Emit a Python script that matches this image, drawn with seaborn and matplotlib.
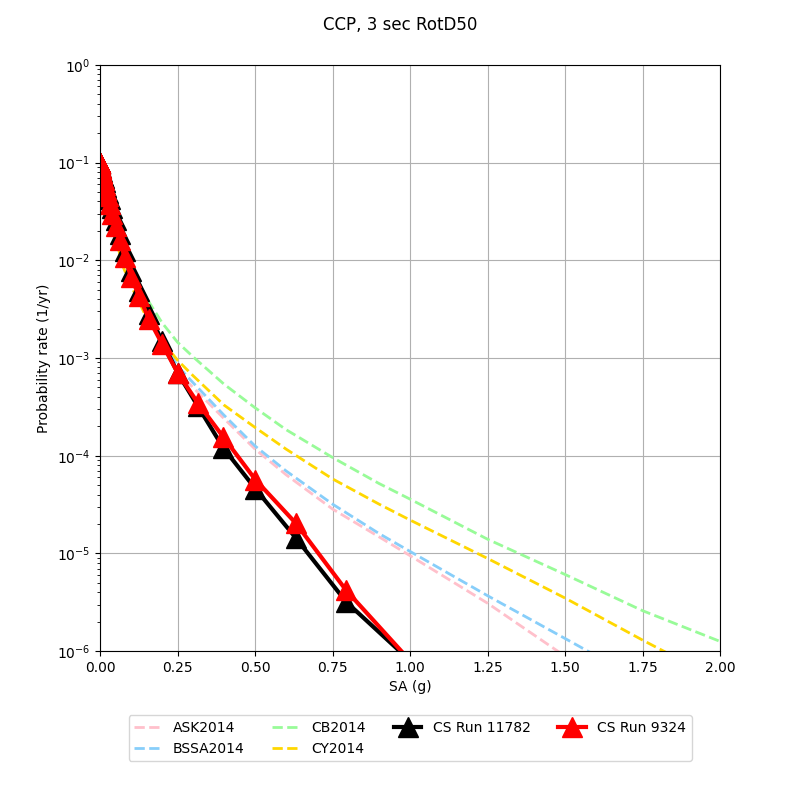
import numpy as np
import pandas as pd
import matplotlib
matplotlib.use("Agg")
import matplotlib.pyplot as plt
import seaborn as sns

# ---- data ----
cs_iml = [0.0001, 0.00013, 0.00016, 0.0002, 0.00025, 0.00032, 0.0004, 0.0005,
          0.00063, 0.00079, 0.001, 0.00126, 0.00158, 0.002, 0.00251, 0.00316,
          0.00398, 0.00501, 0.00631, 0.00794, 0.01, 0.0126, 0.0158, 0.02,
          0.0251, 0.0316, 0.0398, 0.0501, 0.0631, 0.0794, 0.1, 0.126, 0.158,
          0.2, 0.251, 0.316, 0.398, 0.501, 0.631, 0.794, 1.0]

cs_9324 = [0.100, 0.100, 0.0995, 0.099, 0.0985, 0.098, 0.0975, 0.097,
           0.096, 0.095, 0.094, 0.092, 0.090, 0.088, 0.086, 0.084,
           0.082, 0.079, 0.076, 0.073, 0.070, 0.066, 0.059, 0.052,
           0.045, 0.038, 0.030, 0.0225, 0.0160, 0.0108, 0.0068, 0.0043, 0.0025,
           0.0014, 7.0e-4, 3.45e-4, 1.55e-4, 5.7e-5, 2.05e-5, 4.2e-6, 8.0e-7]

cs_11782 = [0.100, 0.100, 0.0995, 0.099, 0.0985, 0.098, 0.0975, 0.097,
            0.096, 0.095, 0.094, 0.092, 0.090, 0.088, 0.086, 0.084,
            0.082, 0.080, 0.077, 0.075, 0.072, 0.069, 0.063, 0.056,
            0.049, 0.042, 0.034, 0.026, 0.0185, 0.0124, 0.0078, 0.0049, 0.0028,
            0.0015, 7.0e-4, 3.2e-4, 1.2e-4, 4.6e-5, 1.45e-5, 3.2e-6, 8.0e-7]

gmpe_x = [0.0001, 0.001, 0.01, 0.03, 0.05, 0.075, 0.1, 0.15, 0.2, 0.25, 0.3,
          0.4, 0.5, 0.6, 0.75, 0.9, 1.0, 1.25, 1.5, 1.75, 2.0]

ask2014 = [0.1, 0.097, 0.063, 0.034, 0.020, 0.0105, 0.0065, 0.0029, 0.0014,
           7.2e-4, 5.0e-4, 2.4e-4, 1.17e-4, 6.4e-5, 2.85e-5, 1.48e-5, 9.5e-6,
           3.1e-6, 8.9e-7, 2.6e-7, 7e-8]
bssa2014 = [0.1, 0.097, 0.063, 0.034, 0.020, 0.0105, 0.0066, 0.0030, 0.0015,
            8.3e-4, 5.6e-4, 2.6e-4, 1.26e-4, 7.0e-5, 3.2e-5, 1.6e-5, 1.05e-5,
            3.7e-6, 1.35e-6, 4.9e-7, 1.8e-7]
cb2014 = [0.1, 0.097, 0.065, 0.036, 0.021, 0.0115, 0.0075, 0.0041, 0.0023,
          1.45e-3, 1.03e-3, 5.4e-4, 3.1e-4, 1.85e-4, 9.6e-5, 5.2e-5, 3.6e-5,
          1.4e-5, 6.1e-6, 2.6e-6, 1.26e-6]
cy2014 = [0.1, 0.097, 0.062, 0.032, 0.017, 0.0085, 0.0055, 0.0026, 0.0015,
          9.5e-4, 6.6e-4, 3.3e-4, 1.95e-4, 1.17e-4, 5.8e-5, 3.2e-5, 2.2e-5,
          8.9e-6, 3.5e-6, 1.3e-6, 5e-7]

gmpe_names = ["ASK2014", "BSSA2014", "CB2014", "CY2014"]
gmpe_vals = [ask2014, bssa2014, cb2014, cy2014]
gmpe_colors = ["pink", "lightskyblue", "palegreen", "gold"]

cs_names = ["CS Run 11782", "CS Run 9324"]
cs_vals = [cs_11782, cs_9324]
cs_colors = ["black", "red"]

# ---- plot ----
fig = plt.figure(figsize=(8, 8), dpi=100)
ax = fig.add_axes([0.125, 0.186, 0.775, 0.733])

for name, vals, col in zip(gmpe_names, gmpe_vals, gmpe_colors):
    df = pd.DataFrame({"x": gmpe_x, "y": vals})
    sns.lineplot(data=df, x="x", y="y", ax=ax, color=col, linestyle="--",
                 linewidth=2, label=name)

for name, vals, col in zip(cs_names, cs_vals, cs_colors):
    df = pd.DataFrame({"x": cs_iml, "y": vals})
    sns.lineplot(data=df, x="x", y="y", ax=ax, color=col, linewidth=3,
                 marker="^", markersize=15, markeredgecolor=col,
                 markeredgewidth=1, label=name)

ax.set_yscale("log")
ax.set_xlim(0, 2)
ax.set_ylim(1e-6, 1)
ax.set_xticks(np.arange(0, 2.01, 0.25))
ax.grid(True, which="major")
ax.set_xlabel("SA (g)")
ax.set_ylabel("Probability rate (1/yr)")
fig.suptitle("CCP, 3 sec RotD50")
ax.legend(loc="upper center", bbox_to_anchor=(0.5, -0.097), ncol=4)

fig.savefig("out.png", dpi=100)
